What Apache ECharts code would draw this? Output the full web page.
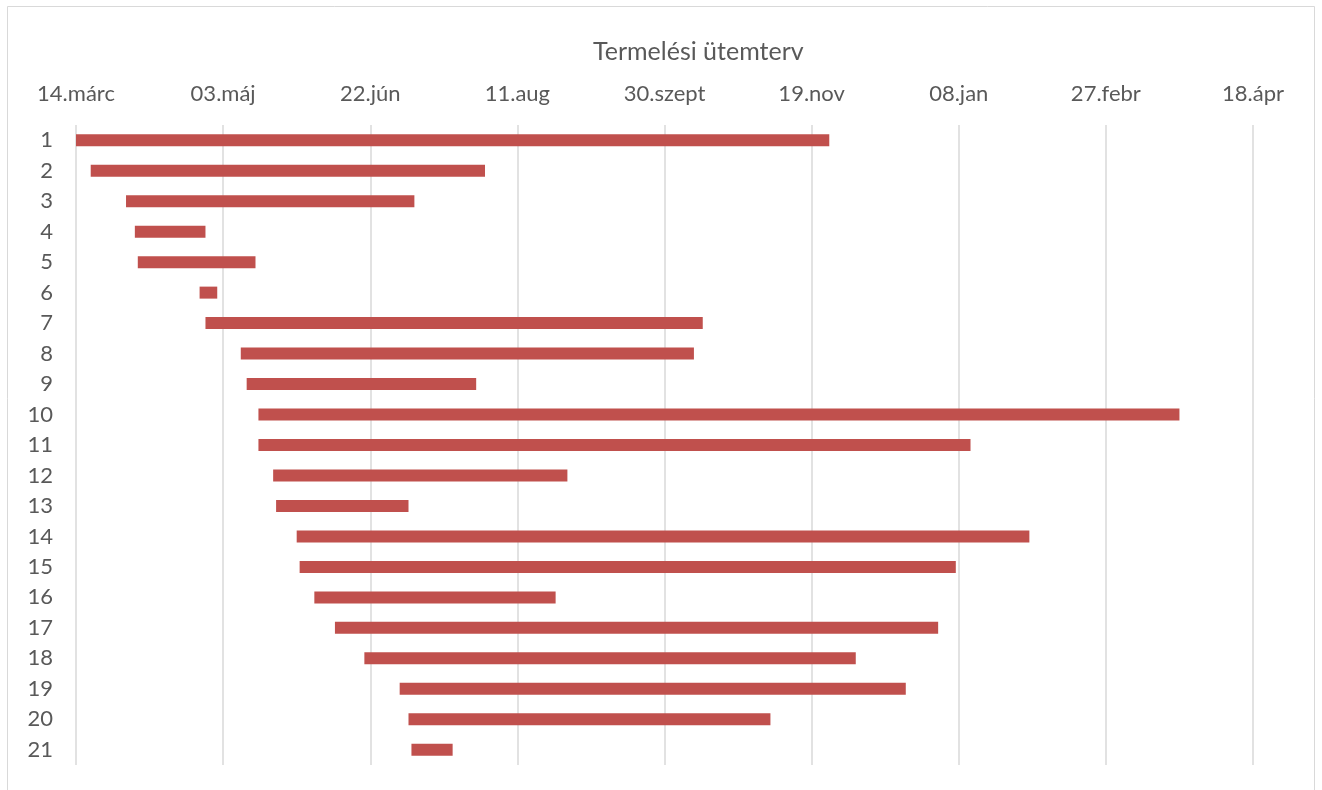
<!DOCTYPE html>
<html>
<head>
<meta charset="utf-8">
<script src="https://cdn.jsdelivr.net/npm/echarts@6/dist/echarts.min.js"></script>
<style>
  html, body { margin: 0; padding: 0; background: #ffffff; }
  #chart { width: 1322px; height: 790px; }
</style>
</head>
<body>
<div id="chart"></div>
<script>
// ---- data ----
const titleText = 'Termelési ütemterv';
const tasks = ['1','2','3','4','5','6','7','8','9','10','11','12','13','14','15','16','17','18','19','20','21'];
const startDates = [
  '2018-03-14','2018-03-19','2018-03-31','2018-04-03','2018-04-04','2018-04-25','2018-04-27',
  '2018-05-09','2018-05-11','2018-05-15','2018-05-15','2018-05-20','2018-05-21','2018-05-28',
  '2018-05-29','2018-06-03','2018-06-10','2018-06-20','2018-07-02','2018-07-05','2018-07-06'
];
const endDates = [
  '2018-11-25','2018-07-31','2018-07-07','2018-04-27','2018-05-14','2018-05-01','2018-10-13',
  '2018-10-10','2018-07-28','2019-03-24','2019-01-12','2018-08-28','2018-07-05','2019-02-01',
  '2019-01-07','2018-08-24','2019-01-01','2018-12-04','2018-12-21','2018-11-05','2018-07-20'
];
const axisStartDate = '2018-03-14';
const axisDays = 400;
const tickStepDays = 50;
const monthNames = ['jan','febr','márc','ápr','máj','jún','júl','aug','szept','okt','nov','dec'];

// ---- helpers ----
const DAY = 86400000;
function toMs(s) { const p = s.split('-').map(Number); return Date.UTC(p[0], p[1] - 1, p[2]); }
const baseMs = toMs(axisStartDate);
const startOffsets = startDates.map(d => (toMs(d) - baseMs) / DAY);
const durations = endDates.map((d, i) => (toMs(d) - toMs(startDates[i])) / DAY);
function dayLabel(v) {
  const dt = new Date(baseMs + v * DAY);
  const dd = String(dt.getUTCDate()).padStart(2, '0');
  return dd + '.' + monthNames[dt.getUTCMonth()];
}

const FONT = 'Lato';
const TXT = '#595959';

const chart = echarts.init(document.getElementById('chart'), null, { renderer: 'canvas' });
chart.setOption({
  backgroundColor: '#ffffff',
  animation: false,
  textStyle: { fontFamily: FONT },
  graphic: [{
    type: 'rect',
    shape: { x: 7.5, y: 6.5, width: 1307, height: 800 },
    style: { fill: 'none', stroke: '#d9d9d9', lineWidth: 1 },
    silent: true, z: -10
  }],
  title: {
    text: titleText,
    left: 593,
    top: 39,
    padding: 0,
    textStyle: { fontFamily: FONT, fontSize: 25, fontWeight: 'normal', color: TXT }
  },
  grid: { left: 76, right: 69, top: 125, bottom: 25, containLabel: false },
  xAxis: {
    type: 'value',
    position: 'top',
    min: 0,
    max: axisDays,
    interval: tickStepDays,
    axisLine: { show: false },
    axisTick: { show: false },
    splitLine: { show: true, lineStyle: { color: '#d9d9d9', width: 1.5 } },
    axisLabel: {
      margin: 20,
      fontFamily: FONT, fontSize: 22, color: TXT,
      formatter: dayLabel
    }
  },
  yAxis: {
    type: 'category',
    data: tasks,
    inverse: true,
    axisLine: { show: false },
    axisTick: { show: false },
    splitLine: { show: false },
    axisLabel: { margin: 23, fontFamily: FONT, fontSize: 22, color: TXT }
  },
  series: [
    {
      type: 'bar',
      stack: 'gantt',
      data: startOffsets,
      barWidth: 12,
      itemStyle: { color: 'rgba(0,0,0,0)' },
      emphasis: { disabled: true },
      silent: true
    },
    {
      type: 'bar',
      stack: 'gantt',
      data: durations,
      barWidth: 12,
      itemStyle: { color: '#C0504D' }
    }
  ]
});
</script>
</body>
</html>
